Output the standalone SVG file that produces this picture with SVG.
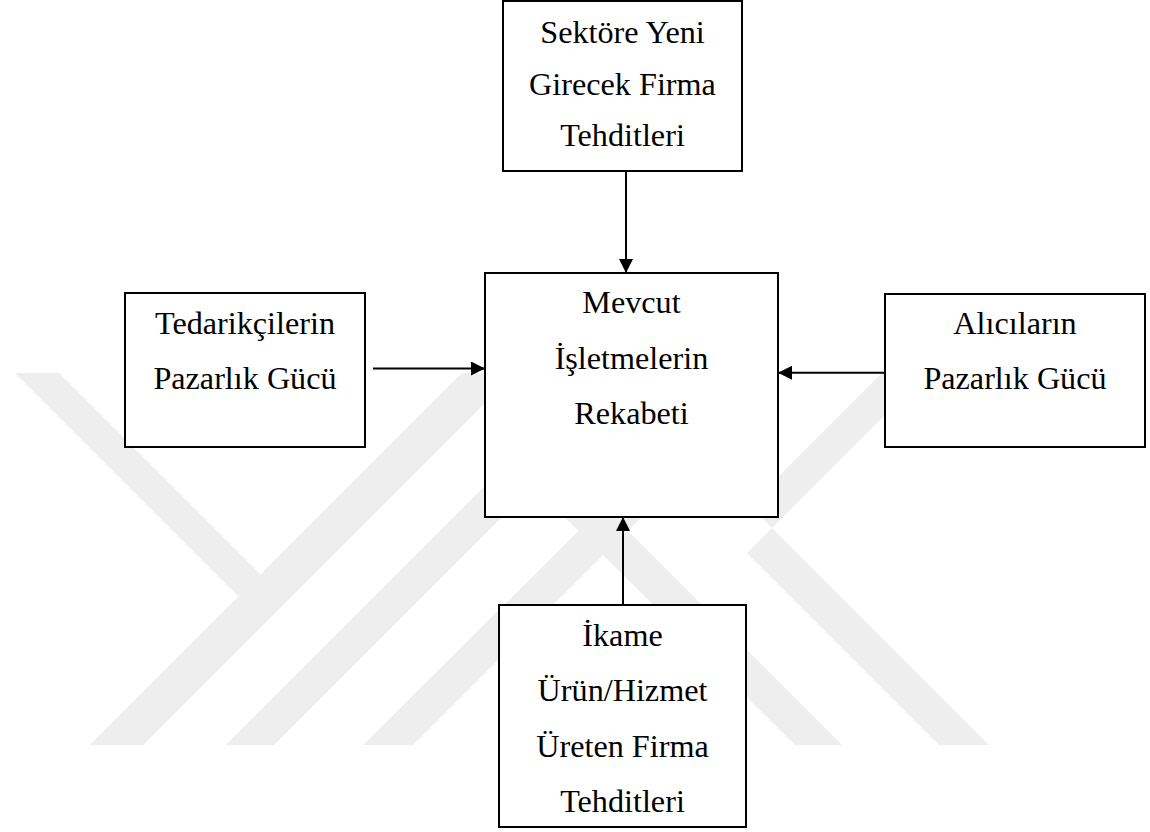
<svg xmlns="http://www.w3.org/2000/svg" width="1150" height="832" viewBox="0 0 1150 832">
  <style>
    .wm { fill: #eeeeee; stroke: none; }
    .box { fill: #ffffff; stroke: #000000; stroke-width: 2; }
    .lbl { font-family: "Liberation Serif", "Times New Roman", serif; font-size: 32.2px; fill: #000000; text-anchor: middle; }
    .conn { stroke: #000000; stroke-width: 2; fill: none; marker-end: url(#arrow); }
  </style>
  <defs>
    <marker id="arrow" markerUnits="userSpaceOnUse" markerWidth="15" markerHeight="14" refX="14" refY="7" orient="auto">
      <path d="M0,0 L14,7 L0,14 z" fill="#000000"/>
    </marker>
  </defs>
  <rect x="0" y="0" width="1150" height="832" fill="#ffffff"/>

  <g id="watermark">
    <polygon class="wm" points="15,373 59,373 260.5,574.5 238.5,596.5"/>
    <polygon class="wm" points="90,745 143,745 515,373 462,373"/>
    <polygon class="wm" points="226,745 274,745 646,373 598,373"/>
    <polygon class="wm" points="363,745 413,745 604,554 700,460 650,460"/>
    <polygon class="wm" points="795,745 842,745 570,473 520,473"/>
    <polygon class="wm" points="939,745 989,745 749.5,505.5 882,373 927,373 747,553"/>
  </g>

  <g id="connectors">
    <line class="conn" x1="626" y1="171" x2="626" y2="273"/>
    <line class="conn" x1="373" y1="368.5" x2="485" y2="368.5"/>
    <line class="conn" x1="885" y1="372.7" x2="778" y2="372.7"/>
    <line class="conn" x1="623" y1="606" x2="623" y2="517"/>
  </g>

  <g id="node-new-entrants">
    <rect class="box" x="503" y="1" width="239" height="170"/>
    <text class="lbl" x="622.5" y="43">Sektöre Yeni</text>
    <text class="lbl" x="622.5" y="95">Girecek Firma</text>
    <text class="lbl" x="622.5" y="146">Tehditleri</text>
  </g>

  <g id="node-rivalry">
    <rect class="box" x="485" y="273" width="293" height="244"/>
    <text class="lbl" x="631.5" y="313">Mevcut</text>
    <text class="lbl" x="631.5" y="368.5">İşletmelerin</text>
    <text class="lbl" x="631.5" y="424">Rekabeti</text>
  </g>

  <g id="node-suppliers">
    <rect class="box" x="125" y="293" width="240" height="154"/>
    <text class="lbl" x="245" y="334">Tedarikçilerin</text>
    <text class="lbl" x="245" y="388.5">Pazarlık Gücü</text>
  </g>

  <g id="node-buyers">
    <rect class="box" x="885" y="294" width="260" height="153"/>
    <text class="lbl" x="1015" y="334">Alıcıların</text>
    <text class="lbl" x="1015" y="388.5">Pazarlık Gücü</text>
  </g>

  <g id="node-substitutes">
    <rect class="box" x="499" y="605" width="247" height="222"/>
    <text class="lbl" x="622.5" y="645.5">İkame</text>
    <text class="lbl" x="622.5" y="700.5">Ürün/Hizmet</text>
    <text class="lbl" x="622.5" y="756.5">Üreten Firma</text>
    <text class="lbl" x="622.5" y="812">Tehditleri</text>
  </g>
</svg>
